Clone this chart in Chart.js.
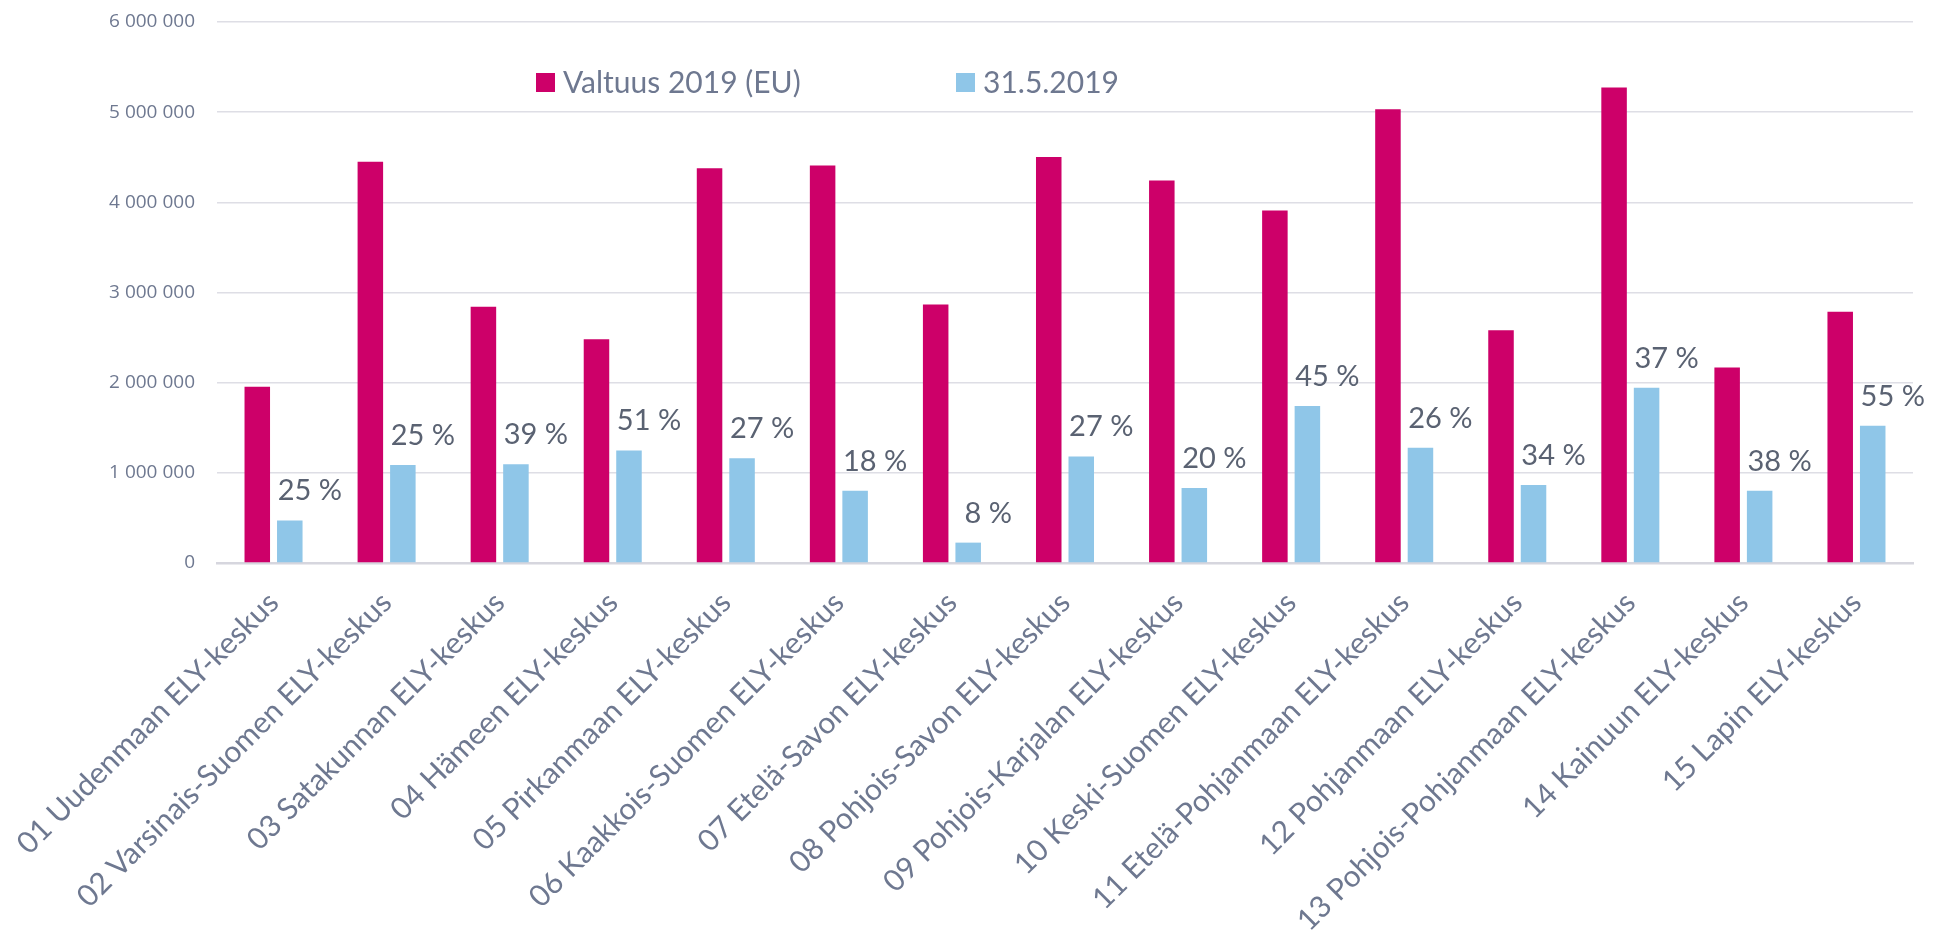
<!DOCTYPE html>
<html>
<head>
<meta charset="utf-8">
<script src="https://cdn.jsdelivr.net/npm/chart.js@4/dist/chart.umd.min.js"></script>
<style>
  html, body { margin: 0; padding: 0; background: #fff; }
  #wrap { width: 1941px; height: 936px; }
</style>
</head>
<body>
<div id="wrap"><canvas id="c" width="1941" height="936"></canvas></div>
<script>
const categories = [
  '01 Uudenmaan ELY-keskus', '02 Varsinais-Suomen ELY-keskus', '03 Satakunnan ELY-keskus',
  '04 Hämeen ELY-keskus', '05 Pirkanmaan ELY-keskus', '06 Kaakkois-Suomen ELY-keskus',
  '07 Etelä-Savon ELY-keskus', '08 Pohjois-Savon ELY-keskus', '09 Pohjois-Karjalan ELY-keskus',
  '10 Keski-Suomen ELY-keskus', '11 Etelä-Pohjanmaan ELY-keskus', '12 Pohjanmaan ELY-keskus',
  '13 Pohjois-Pohjanmaan ELY-keskus', '14 Kainuun ELY-keskus', '15 Lapin ELY-keskus'
];
const seriesNames = ['Valtuus 2019 (EU)', '31.5.2019'];
const valtuus = [1955000, 4449000, 2843000, 2482000, 4377000, 4409000, 2867000, 4504000,
  4243000, 3910000, 5032000, 2581000, 5274000, 2169000, 2787000];
const toteuma = [472000, 1086000, 1094000, 1249000, 1162000, 801000, 226000, 1182000,
  833000, 1741000, 1277000, 864000, 1943000, 801000, 1523000];
const percentLabels = ['25 %', '25 %', '39 %', '51 %', '27 %', '18 %', '8 %', '27 %',
  '20 %', '45 %', '26 %', '34 %', '37 %', '38 %', '55 %'];
const yMax = 6000000;
const yStep = 1000000;

const colors = ['#cd0069', '#8fc6e8'];
const axisText = '#6e7890';
const labelText = '#5a6272';

// percentages above the light blue bars
const percentPlugin = {
  id: 'percentLabels',
  afterDatasetsDraw(chart) {
    const ctx = chart.ctx;
    const meta = chart.getDatasetMeta(1);
    ctx.save();
    ctx.font = '29px Lato';
    ctx.fillStyle = labelText;
    ctx.textAlign = 'center';
    ctx.textBaseline = 'alphabetic';
    meta.data.forEach((bar, i) => {
      ctx.fillText(percentLabels[i], bar.x + 20, bar.y - 20);
    });
    ctx.restore();
  }
};

// legend sits inside the plot, items far apart
const legendPlugin = {
  id: 'insideLegend',
  afterDraw(chart) {
    const ctx = chart.ctx;
    const xs = [536, 956];
    const yc = 82;
    ctx.save();
    ctx.font = '30px Lato';
    ctx.textBaseline = 'middle';
    ctx.textAlign = 'left';
    chart.data.datasets.forEach((ds, i) => {
      ctx.fillStyle = ds.backgroundColor;
      ctx.fillRect(xs[i], yc - 9, 19, 19);
      ctx.fillStyle = axisText;
      ctx.fillText(ds.label, xs[i] + 27, yc + 1);
    });
    ctx.restore();
  }
};

new Chart(document.getElementById('c'), {
  type: 'bar',
  data: {
    labels: categories,
    datasets: [
      { label: seriesNames[0], data: valtuus, backgroundColor: colors[0] },
      { label: seriesNames[1], data: toteuma, backgroundColor: colors[1] }
    ]
  },
  options: {
    responsive: false,
    devicePixelRatio: 1,
    animation: false,
    datasets: { bar: { categoryPercentage: 0.575, barPercentage: 0.785 } },
    layout: { padding: { top: 22, right: 28, bottom: 0, left: 0 } },
    plugins: { legend: { display: false }, tooltip: { enabled: false } },
    scales: {
      x: {
        grid: { display: false },
        border: { color: '#d6d6de', width: 2.5 },
        ticks: {
          color: axisText,
          font: { family: 'Lato', size: 30 },
          minRotation: 45,
          maxRotation: 45,
          autoSkip: false,
          padding: 14
        },
        afterFit(scale) {
          scale.height = 373;
          scale.paddingLeft = 0;
          scale.paddingRight = 0;
        }
      },
      y: {
        min: 0,
        max: yMax,
        border: { display: false },
        grid: { color: '#dedee5', lineWidth: 1.5, drawTicks: false },
        ticks: {
          stepSize: yStep,
          color: axisText,
          font: { family: 'Open Sans', size: 19 },
          padding: 22,
          callback: v => String(v).replace(/\B(?=(\d{3})+(?!\d))/g, ' ')
        },
        afterFit(scale) {
          scale.width = 217;
          scale.paddingTop = 0;
          scale.paddingBottom = 0;
        }
      }
    }
  },
  plugins: [percentPlugin, legendPlugin]
});
</script>
</body>
</html>
